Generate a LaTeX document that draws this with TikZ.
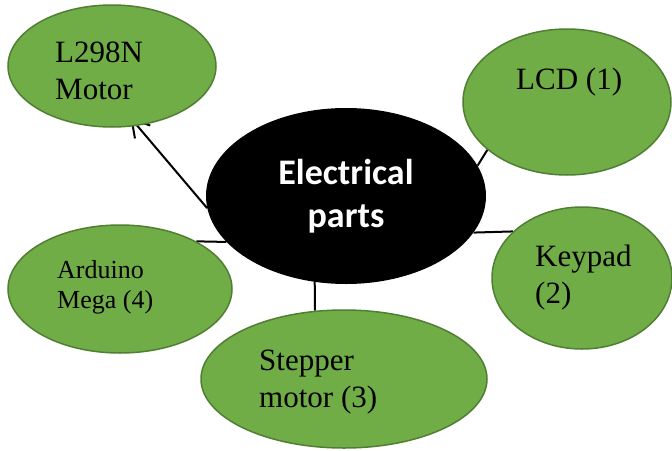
\documentclass[tikz,border=0pt]{standalone}
\usepackage{fontspec}
\setmainfont{Liberation Serif}
\newfontfamily\carlito{Carlito}
\usepackage{tikz}
\usetikzlibrary{shapes.geometric,arrows.meta,backgrounds}
\definecolor{leaf}{HTML}{70AD47}
\definecolor{leafline}{HTML}{507E32}

\begin{document}
\begin{tikzpicture}[
      x=1pt, y=-1pt,
      part/.style={ellipse, draw=leafline, line width=1.5pt, fill=leaf, inner sep=0pt},
      hub/.style={ellipse, fill=black, inner sep=0pt, align=center, text=white,
                  font=\carlito\bfseries\fontsize{36}{43}\selectfont},
      txt/.style={anchor=base west, align=left, inner sep=0pt,
                  font=\fontsize{31}{37}\selectfont},
      link/.style={line width=2pt},
      arr/.style={-{Straight Barb[length=17pt, width=20pt]}, line width=2pt}
    ]
    \useasboundingbox (0,0) rectangle (672,450);
    \node[hub, minimum width=280pt, minimum height=176pt] (hub) at (346,196) {Electrical\\parts};
    \node[part, minimum width=208pt, minimum height=122pt] (driver)  at (112,66)  {};
    \node[part, minimum width=208pt, minimum height=146pt] (lcd)     at (567,102) {};
    \node[part, minimum width=180pt, minimum height=142pt] (keypad)  at (582,278) {};
    \node[part, minimum width=286pt, minimum height=138pt] (stepper) at (344,379) {};
    \node[part, minimum width=224pt, minimum height=128pt] (mega)    at (120,289) {};
    \node[txt] (drivertxt)  at (55,99)   {L298N\\Motor};
    \node[txt] (lcdtxt)     at (516,89)  {LCD (1)};
    \node[txt] (keypadtxt)  at (535,303) {Keypad\\(2)};
    \node[txt] (steppertxt) at (259,407) {Stepper\\motor (3)};
    \node[txt, font=\fontsize{26}{30}\selectfont] (megatxt) at (57,308) {Arduino\\Mega (4)};
    \begin{scope}[on background layer]
      \draw[arr, shorten >=-11pt] (hub.185) -- (driver.293);
      \draw[link] (hub.13) -- (lcd.211);
      \draw[link] (hub.344) -- (keypad.146);
      \draw[link] (mega.32) -- (hub.201);
      \draw[link] (hub.250) -- (stepper.113);
    \end{scope}
  \end{tikzpicture}
\end{document}
